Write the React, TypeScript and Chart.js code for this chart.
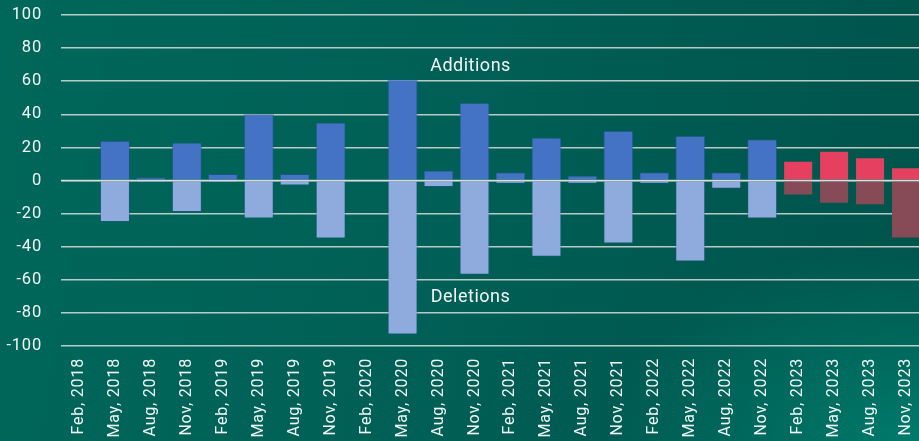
import React, { useEffect, useRef } from "react";
import { Chart, registerables } from "chart.js";

Chart.register(...registerables);

const categories = [
  "Feb, 2018", "May, 2018", "Aug, 2018", "Nov, 2018",
  "Feb, 2019", "May, 2019", "Aug, 2019", "Nov, 2019",
  "Feb, 2020", "May, 2020", "Aug, 2020", "Nov, 2020",
  "Feb, 2021", "May, 2021", "Aug, 2021", "Nov, 2021",
  "Feb, 2022", "May, 2022", "Aug, 2022", "Nov, 2022",
  "Feb, 2023", "May, 2023", "Aug, 2023", "Nov, 2023",
];

const additions = [0, 24, 2, 23, 4, 40, 4, 35, 0, 61, 6, 47, 5, 26, 3, 30, 5, 27, 5, 25, 12, 18, 14, 8];
const deletions = [0, -25, -1, -19, -1, -23, -3, -35, 0, -93, -4, -57, -2, -46, -2, -38, -2, -49, -5, -23, -9, -14, -15, -35];

// true = forecast (red)
const isForecast = [
  false, false, false, false, false, false, false, false,
  false, false, false, false, false, false, false, false,
  false, false, false, false, true, true, true, true,
];

const yMin = -100;
const yMax = 100;
const yStep = 20;

const annotationTexts = [
  { text: "Additions", xIndex: 11, y: 69 },
  { text: "Deletions", xIndex: 11, y: -70.5 },
];

const FONT = "Roboto, 'Noto Sans', sans-serif";

export default function App() {
  const canvasRef = useRef<HTMLCanvasElement | null>(null);

  useEffect(() => {
    document.body.style.margin = "0";
    const canvas = canvasRef.current;
    if (!canvas) return;

    const addColors = isForecast.map((f) => (f ? "#e64060" : "#4472c4"));
    const delColors = isForecast.map((f) => (f ? "#874b58" : "#8faadc"));
    const addBorders = isForecast.map((f) => (f ? "rgba(0,0,0,0)" : "rgba(40,80,150,0.6)"));
    const delBorders = isForecast.map((f) => (f ? "rgba(0,0,0,0)" : "rgba(40,80,150,0.45)"));

    const spacingPlugin = {
      id: "spacing",
      beforeUpdate(chart: any) {
        chart.ctx.letterSpacing = "0.8px";
      },
      beforeDraw(chart: any) {
        chart.ctx.letterSpacing = "0.8px";
      },
    };

    const overlayPlugin = {
      id: "overlay",
      afterDatasetsDraw(chart: any) {
        const { ctx, chartArea, scales } = chart;
        const y0 = scales.y.getPixelForValue(0);
        ctx.save();
        ctx.strokeStyle = "rgba(220,225,222,0.85)";
        ctx.lineWidth = 1.5;
        ctx.beginPath();
        ctx.moveTo(chartArea.left, y0);
        ctx.lineTo(chartArea.right, y0);
        ctx.stroke();
        ctx.fillStyle = "rgba(255,255,255,0.95)";
        ctx.font = `18px ${FONT}`;
        ctx.letterSpacing = "0.5px";
        ctx.textAlign = "center";
        ctx.textBaseline = "middle";
        for (const a of annotationTexts) {
          const x = scales.x.getPixelForValue(a.xIndex) - 4;
          const y = scales.y.getPixelForValue(a.y);
          ctx.fillText(a.text, x, y);
        }
        ctx.restore();
      },
    };

    const chart = new Chart(canvas, {
      type: "bar",
      data: {
        labels: categories,
        datasets: [
          {
            label: "Additions",
            data: additions,
            backgroundColor: addColors,
            borderColor: addBorders,
            borderWidth: 1,
            barPercentage: 1,
            categoryPercentage: 0.835,
          },
          {
            label: "Deletions",
            data: deletions,
            backgroundColor: delColors,
            borderColor: delBorders,
            borderWidth: 1,
            barPercentage: 1,
            categoryPercentage: 0.835,
          },
        ],
      },
      options: {
        responsive: false,
        animation: false,
        layout: { padding: 0 },
        plugins: {
          legend: { display: false },
          tooltip: { enabled: false },
        },
        scales: {
          x: {
            stacked: true,
            grid: { display: false, drawTicks: false },
            border: { display: false },
            ticks: {
              color: "rgba(255,255,255,0.95)",
              font: { family: FONT, size: 16 },
              minRotation: 90,
              maxRotation: 90,
              autoSkip: false,
              padding: 12,
            },
            afterFit(scale: any) {
              scale.height = 95;
              scale.paddingLeft = 0;
              scale.paddingRight = 0;
            },
          },
          y: {
            stacked: true,
            min: yMin,
            max: yMax,
            grid: {
              color: "rgba(215,222,219,0.85)",
              lineWidth: 1.5,
              drawTicks: false,
            },
            border: { display: false },
            ticks: {
              stepSize: yStep,
              color: "rgba(255,255,255,0.95)",
              font: { family: FONT, size: 16.5 },
              padding: 19,
            },
            afterFit(scale: any) {
              scale.width = 61;
              scale.paddingTop = 15;
              scale.paddingBottom = 0;
            },
          },
        },
      },
      plugins: [spacingPlugin, overlayPlugin],
    });

    return () => chart.destroy();
  }, []);

  return (
    <div
      style={{
        position: "fixed",
        left: 0,
        top: 0,
        width: 919,
        height: 441,
        overflow: "hidden",
        background:
          "radial-gradient(ellipse 320px 200px at 100% 100%, rgba(0,135,118,0.75) 0%, rgba(0,135,118,0) 100%), linear-gradient(100deg, #00675b 0%, #005f56 50%, #00534b 100%)",
      }}
    >
      <canvas ref={canvasRef} width={924} height={441} style={{ display: "block" }} />
    </div>
  );
}
